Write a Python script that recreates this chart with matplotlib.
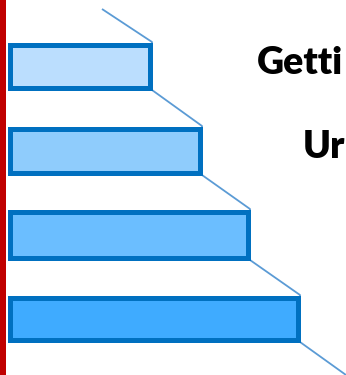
import matplotlib
matplotlib.use("Agg")
import matplotlib.pyplot as plt

# bar right ends (pixels in slide space), fills, and the visible part of the labels
bar_ends = [152, 202, 250, 300]
bar_fills = ["#BBDEFE", "#8FCCFC", "#6BBEFF", "#3FABFF"]
bar_tops = [42, 126, 209, 295]
bar_bottoms = [90, 175, 260, 342]
labels = ["Getti", "Ur"]
label_x = [257, 303]
label_base = [74, 158]

W, H = 346, 375
fig = plt.figure(figsize=(W / 100, H / 100), dpi=100)
ax = fig.add_axes([0, 0, 1, 1])
ax.set_xlim(0, W)
ax.set_ylim(H, 0)
ax.axis("off")

px = 72 / 100  # points per pixel
border = 5

# red vertical rule on the left
ax.axvline(3, color="#C00000", lw=6 * px, zorder=1)

# stepped connector running behind the bars
xs = [102]
ys = [9]
for i, end in enumerate(bar_ends):
    xs += [end, end]
    ys += [bar_tops[i], bar_bottoms[i]]
xs.append(346)
ys.append(375)
ax.plot(xs, ys, color="#5B9BD5", lw=1.8 * px, zorder=1, solid_capstyle="butt")

left = 7 + border / 2
for end, top, bot, fill in zip(bar_ends, bar_tops, bar_bottoms, bar_fills):
    t = top + border / 2
    b = bot - border / 2
    ax.barh((t + b) / 2, (end - border / 2) - left, height=b - t, left=left,
            color=fill, edgecolor="#0070C0", linewidth=border * px, zorder=2)

for txt, x, y in zip(labels, label_x, label_base):
    ax.text(x, y, txt, fontsize=27, fontweight="heavy", family=["Lato", "DejaVu Sans"],
            color="black", ha="left", va="baseline")

fig.savefig("out.png", dpi=100)
